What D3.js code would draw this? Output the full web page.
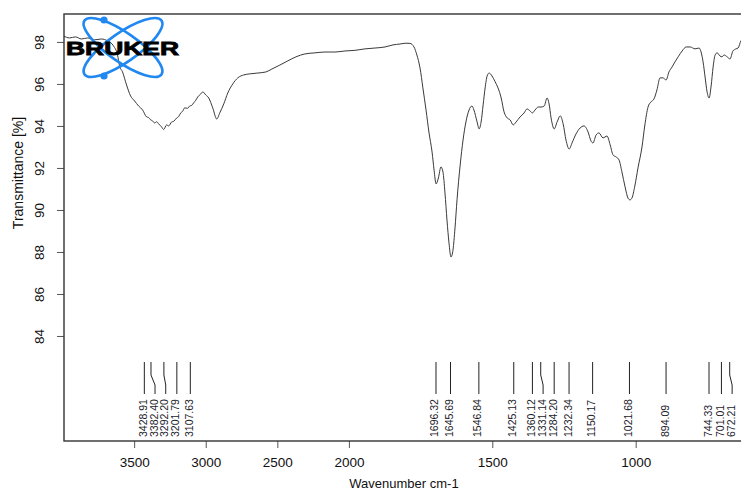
<!DOCTYPE html>
<html lang="en">

<head>
    <meta charset="UTF-8">
    <title>IR spectrum</title>
    <style>
        body,
        html {
            margin: 0;
            padding: 0;
            background: #fff;
            font-family: "Liberation Sans", Arial, Helvetica, sans-serif;
        }
    </style>
</head>

<body>
    <svg id="svg" width="741" height="491"></svg>

    <script src="https://d3js.org/d3.v7.min.js"></script>
    <script>
        // spectrum (wavenumber cm-1, transmittance %)
        const wavenumbers = [3994, 3952, 3910, 3868, 3826, 3777, 3728, 3686, 3644, 3616,
            3602, 3581, 3553, 3525, 3497, 3469, 3441, 3413, 3399, 3385, 3371, 3357, 3343, 3329, 3308,
            3294, 3273, 3259, 3238, 3224, 3203, 3189, 3175, 3161, 3147, 3126, 3112, 3098, 3084, 3070,
            3056, 3035, 3021, 3000, 2979, 2951, 2923, 2902, 2874, 2846, 2811, 2776, 2734, 2692, 2636,
            2580, 2538, 2482, 2426, 2370, 2307, 2237, 2167, 2097, 2027,
            1979, 1944, 1909, 1874, 1846, 1822, 1801, 1787, 1773, 1763, 1752, 1742, 1731, 1721, 1710,
            1703, 1696, 1688, 1679, 1672, 1665, 1658, 1651, 1644, 1637, 1630, 1623, 1612, 1602, 1592,
            1581, 1571, 1564, 1553, 1546, 1539, 1532, 1525, 1518, 1511, 1501, 1490, 1480, 1469, 1459,
            1448, 1438, 1427, 1417, 1403, 1389, 1379, 1368, 1360, 1351, 1340, 1330, 1319, 1309, 1302,
            1295, 1284, 1274, 1263, 1253, 1243, 1232, 1222, 1208, 1194, 1180, 1166, 1156, 1149, 1138,
            1128, 1114, 1100, 1089, 1079, 1068, 1058, 1048, 1037, 1027, 1020, 1013, 1003, 992, 978,
            968, 957, 947, 936, 926, 915, 905, 894, 884, 873, 863, 852, 838, 824, 810, 793, 779, 772,
            765, 758, 751, 744, 737, 730, 723, 716, 706, 699, 692, 681, 671, 661, 650, 643, 633, 619]
        const transmittance = [98.29, 98.19, 98.24, 98.14, 98.19, 98.10, 98.14, 98.05, 97.81, 97.38,
            96.86, 96.57, 95.95, 95.43, 95.19, 94.95, 94.76, 94.43, 94.40, 94.29, 94.24, 94.14, 94.20, 94.10, 93.95,
            93.83, 94.05, 94.00, 94.19, 94.22, 94.38, 94.45, 94.62, 94.70, 94.86, 94.84, 94.95, 94.98, 95.10, 95.22,
            95.38, 95.52, 95.62, 95.48, 95.33, 94.86, 94.33, 94.62, 95.05, 95.57, 96.00, 96.29, 96.43, 96.48, 96.52,
            96.57, 96.71, 96.90, 97.10, 97.29, 97.43, 97.48, 97.52, 97.52, 97.57,
            97.60, 97.67, 97.71, 97.76, 97.86, 97.90, 97.94, 97.93, 97.76, 97.38, 96.76, 95.81, 94.76, 93.71, 92.76,
            91.90, 91.24, 91.52, 92.05, 91.81, 90.81, 89.52, 88.43, 87.76, 88.10, 89.14, 90.48, 92.14, 93.33, 94.19,
            94.76, 94.95, 94.76, 94.19, 93.86, 94.19, 95.00, 95.81, 96.38, 96.52, 96.38, 96.10, 95.81, 95.33, 94.67,
            94.38, 94.29, 94.05, 94.19, 94.43, 94.62, 94.81, 94.71, 94.62, 94.76, 94.90, 94.90, 94.95, 95.33, 95.05,
            94.38, 93.86, 94.19, 94.48, 94.10, 93.33, 92.90, 93.19, 93.62, 93.90, 94.00, 93.71, 93.29, 93.19, 93.57,
            93.67, 93.43, 93.52, 93.10, 92.62, 92.52, 92.38, 91.81, 91.10, 90.57, 90.48, 90.57, 91.14, 92.00, 93.00,
            94.05, 94.90, 95.14, 95.29, 95.71, 96.29, 96.29, 96.19, 96.57, 96.81, 97.05, 97.29, 97.57, 97.76, 97.76, 97.67, 97.71, 97.52,
            97.05, 96.33, 95.62, 95.33, 95.90, 96.81, 97.38, 97.48, 97.33, 97.29, 97.38, 97.29, 97.19, 97.57, 97.67, 97.71, 98.05, 98.19]

        // picked peaks
        const peaks = [3428.91, 3382.40, 3292.20, 3201.79, 3107.63, 1696.32, 1645.69, 1546.84,
            1425.13, 1360.12, 1331.14, 1284.20, 1232.34, 1150.17, 1021.68, 894.09, 744.33, 701.01, 672.21]

        const xTicks = [3500, 3000, 2500, 2000, 1500, 1000]
        const yTicks = [84, 86, 88, 90, 92, 94, 96, 98]

        const margin = { top: 14, left: 64, bottom: 441 }
        const svg = d3.select('#svg')

        // OPUS style axis: range above 2000 cm-1 is compressed by half
        const xscale = d3.scaleLinear()
            .domain([3990, 2000, 600])
            .range([margin.left, 348.9, 750.4])

        const yscale = d3.scaleLinear()
            .domain([79, 99.33])
            .range([margin.bottom, margin.top])

        const data = wavenumbers.map((w, i) => ({ w: w, t: transmittance[i] }))

        svg.append('defs').append('clipPath').attr('id', 'plotclip')
            .append('rect')
            .attr('x', margin.left).attr('y', margin.top)
            .attr('width', 741 - margin.left).attr('height', margin.bottom - margin.top)

        // spectrum
        const line = d3.line()
            .x(d => xscale(d.w))
            .y(d => yscale(d.t))
            .curve(d3.curveMonotoneX)

        svg.append('path')
            .datum(data)
            .attr('clip-path', 'url(#plotclip)')
            .attr('fill', 'none')
            .attr('stroke', '#3a3a3a')
            .attr('stroke-width', 1)
            .attr('d', line)

        // peak marks, labels pushed apart when crowded
        let prev = -Infinity
        const peakData = peaks.map(p => {
            const x = xscale(p)
            const lx = Math.max(x, prev + 10.7)
            prev = lx
            return { p: p, x: x, lx: lx }
        })

        const peakGroup = svg.append('g')
        peakGroup.selectAll('path')
            .data(peakData)
            .enter()
            .append('path')
            .attr('fill', 'none')
            .attr('stroke', '#222')
            .attr('stroke-width', 1)
            .attr('d', d => `M${d.x},362 L${d.x},375 L${d.lx},385 L${d.lx},394`)

        peakGroup.selectAll('text')
            .data(peakData)
            .enter()
            .append('text')
            .attr('transform', d => `translate(${d.lx + 2.5},437) rotate(-90)`)
            .attr('font-size', '10.5px')
            .attr('fill', '#1a1a2a')
            .text(d => d.p.toFixed(2))

        // axes
        const bottomAxis = d3.axisBottom(xscale)
            .tickValues(xTicks)
            .tickSize(7)
            .tickPadding(9)
            .tickFormat(d3.format('d'))

        const xg = svg.append('g')
            .attr('transform', `translate(0, ${margin.bottom})`)
            .call(bottomAxis)
        xg.select('.domain').remove()
        xg.selectAll('line').attr('stroke', '#555')
        xg.selectAll('text')
            .attr('font-size', '13.5px')
            .attr('font-family', '"Liberation Sans", Arial, sans-serif')
            .attr('fill', '#111')

        const leftAxis = d3.axisLeft(yscale)
            .tickValues(yTicks)
            .tickSize(7)

        const yg = svg.append('g')
            .attr('transform', `translate(${margin.left}, 0)`)
            .call(leftAxis)
        yg.select('.domain').remove()
        yg.selectAll('line').attr('stroke', '#555')
        yg.selectAll('text')
            .attr('x', null)
            .attr('dy', null)
            .attr('text-anchor', 'middle')
            .attr('transform', 'translate(-20.5,0) rotate(-90)')
            .attr('font-size', '13.5px')
            .attr('font-family', '"Liberation Sans", Arial, sans-serif')
            .attr('fill', '#111')

        // plot box (right edge lies outside the picture)
        svg.append('rect')
            .attr('x', margin.left)
            .attr('y', margin.top)
            .attr('width', 750.4 - margin.left)
            .attr('height', margin.bottom - margin.top)
            .attr('fill', 'none')
            .attr('stroke', '#333')
            .attr('stroke-width', 1.4)

        // axis titles
        svg.append('text')
            .attr('x', 404)
            .attr('y', 488)
            .attr('text-anchor', 'middle')
            .attr('font-size', '13px')
            .attr('fill', '#111')
            .text('Wavenumber cm-1')

        svg.append('text')
            .attr('transform', 'translate(22.5, 173) rotate(-90)')
            .attr('text-anchor', 'middle')
            .attr('font-size', '14px')
            .attr('fill', '#111')
            .text('Transmittance [%]')

        // Bruker logo
        const logo = svg.append('g')
        logo.selectAll('ellipse')
            .data([35, -35])
            .enter()
            .append('ellipse')
            .attr('transform', a => `translate(123,47.5) rotate(${a})`)
            .attr('rx', 47)
            .attr('ry', 14.5)
            .attr('fill', 'none')
            .attr('stroke', '#2088f0')
            .attr('stroke-width', 2.6)
        logo.selectAll('circle')
            .data([20, 76])
            .enter()
            .append('circle')
            .attr('cx', 104)
            .attr('cy', d => d)
            .attr('r', 3.6)
            .attr('fill', '#2088f0')
        logo.append('text')
            .attr('x', 66)
            .attr('y', 55)
            .attr('font-size', '18px')
            .attr('font-weight', 'bold')
            .attr('textLength', 113)
            .attr('lengthAdjust', 'spacingAndGlyphs')
            .attr('fill', '#000')
            .attr('stroke', '#000')
            .attr('stroke-width', 0.8)
            .text('BRUKER')
    </script>
</body>

</html>
